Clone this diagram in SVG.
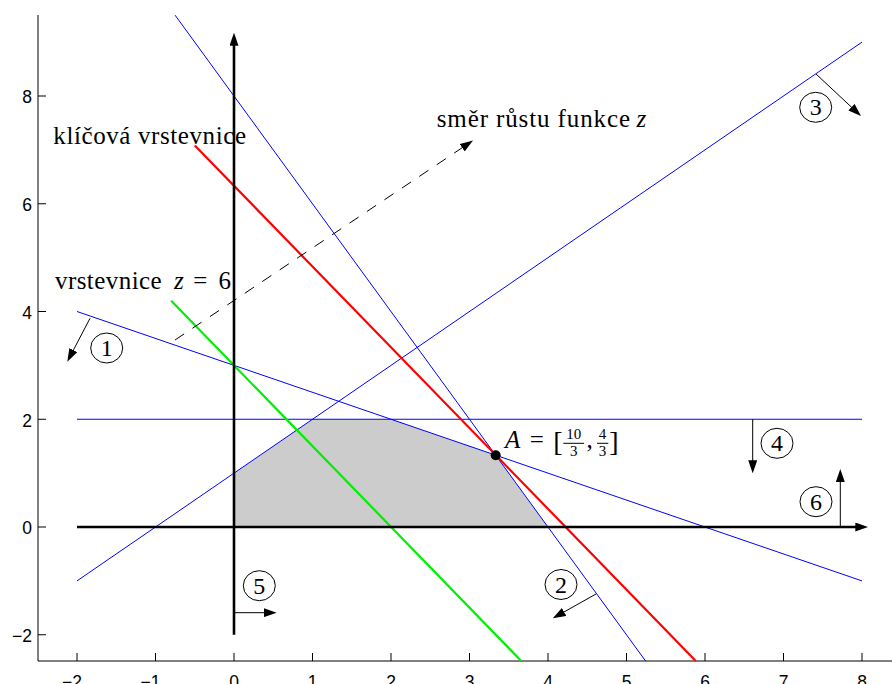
<svg xmlns="http://www.w3.org/2000/svg" width="892" height="684" viewBox="0 0 892 684">
<defs>
<style>
.it{font-style:italic}
.tick{font-family:'Liberation Sans',Arial,sans-serif;font-size:17.5px;fill:#000}
.ax{stroke:#000;stroke-width:1;fill:none}
.blue{stroke:#0000ff;stroke-width:1;fill:none}
.red{stroke:#ff0000;stroke-width:2.2;fill:none}
.green{stroke:#00ee00;stroke-width:2.2;fill:none}
.thick{stroke:#000;stroke-width:2.6;fill:none;marker-end:url(#ah)}
.thin{stroke:#000;stroke-width:1;fill:none;marker-end:url(#ah)}
.dash{stroke:#000;stroke-width:1;fill:none;stroke-dasharray:11 10;marker-end:url(#ah)}
.circ{stroke:#000;stroke-width:1;fill:none}
.num{font-size:24px;text-anchor:middle;fill:#000}
</style>
<marker id="ah" markerUnits="userSpaceOnUse" markerWidth="13" markerHeight="9" viewBox="0 0 13 9" refX="4" refY="4.5" orient="auto"><path d="M0,0 L13,4.5 L0,9 z" fill="#000"/></marker>
</defs>
<rect x="0" y="0" width="892" height="684" fill="#fff"/>

<g id="feasible-region">
<polygon points="234,527 234,473.1 312.5,419.25 391,419.25 495.7,455.2 548,527" fill="#cccccc"/>
</g>

<g id="frame">
<path class="ax" d="M38,15 V661 H892"/>
<path class="ax" d="M38,96 h8 M38,203.75 h8 M38,311.5 h8 M38,419.25 h8 M38,527 h8 M38,634.75 h8"/>
<path class="ax" d="M77,661 v-8 M155.5,661 v-8 M234,661 v-8 M312.5,661 v-8 M391,661 v-8 M469.5,661 v-8 M548,661 v-8 M626.5,661 v-8 M705,661 v-8 M783.5,661 v-8 M862,661 v-8"/>
<g class="tick" text-anchor="end">
<text x="32" y="103.3">8</text>
<text x="32" y="211">6</text>
<text x="32" y="318.8">4</text>
<text x="32" y="426.5">2</text>
<text x="32" y="534.3">0</text>
<text x="32" y="642">−2</text>
</g>
<g class="tick" text-anchor="end">
<text x="82" y="687.5">−2</text>
<text x="160.5" y="687.5">−1</text>
</g>
<g class="tick" text-anchor="middle">
<text x="234" y="687.5">0</text>
<text x="312.5" y="687.5">1</text>
<text x="391" y="687.5">2</text>
<text x="469.5" y="687.5">3</text>
<text x="548" y="687.5">4</text>
<text x="626.5" y="687.5">5</text>
<text x="705" y="687.5">6</text>
<text x="783.5" y="687.5">7</text>
<text x="862" y="687.5">8</text>
</g>
</g>

<g id="constraints">
<line id="c1" class="blue" x1="77" y1="311.5" x2="862" y2="580.9"/>
<line id="c2" class="blue" x1="175.1" y1="15.2" x2="645.6" y2="661"/>
<line id="c3" class="blue" x1="77" y1="580.9" x2="862" y2="42.1"/>
<line id="c4" class="blue" x1="77" y1="419.25" x2="862" y2="419.25"/>
</g>

<g id="contours">
<line id="key-contour" class="red" x1="194.8" y1="145.4" x2="695.8" y2="661"/>
<line id="contour-6" class="green" x1="171.2" y1="300.7" x2="521.3" y2="661"/>
</g>

<g id="axes">
<line class="thick" x1="234" y1="634.75" x2="234" y2="41.7"/>
<line class="thick" x1="77" y1="527" x2="859.3" y2="527"/>
</g>

<g id="connectors">
<line class="dash" x1="175" y1="340" x2="465.5" y2="145.5"/>
<line class="thin" x1="90" y1="318.3" x2="71.5" y2="353.7"/>
<line class="thin" x1="596" y1="594" x2="560.6" y2="613.9"/>
<line class="thin" x1="816" y1="74" x2="854.4" y2="109.9"/>
<line class="thin" x1="752.7" y1="419.25" x2="752.7" y2="464.3"/>
<line class="thin" x1="234" y1="612.7" x2="267.7" y2="612.7"/>
<line class="thin" x1="840.3" y1="527" x2="840.3" y2="478"/>
</g>

<g font-family="Liberation Serif" fill="#000">
<g id="marker-1"><ellipse class="circ" cx="106.7" cy="348" rx="16" ry="15"/><text class="num" x="106.7" y="356">1</text></g>
<g id="marker-2"><ellipse class="circ" cx="561" cy="584.5" rx="16" ry="15"/><text class="num" x="561" y="592.5">2</text></g>
<g id="marker-3"><ellipse class="circ" cx="815.7" cy="107.3" rx="16" ry="15"/><text class="num" x="815.7" y="115.3">3</text></g>
<g id="marker-4"><ellipse class="circ" cx="777" cy="443.3" rx="16" ry="15"/><text class="num" x="777" y="451.3">4</text></g>
<g id="marker-5"><ellipse class="circ" cx="259.3" cy="585.7" rx="16" ry="15"/><text class="num" x="259.3" y="593.7">5</text></g>
<g id="marker-6"><ellipse class="circ" cx="816" cy="501.7" rx="16" ry="15"/><text class="num" x="816" y="509.7">6</text></g>

<g id="label-key">
<text x="53.3" y="144" font-size="25" textLength="192.7" lengthAdjust="spacing">klíčová vrstevnice</text>
</g>
<g id="label-direction">
<text x="436.7" y="126.7" font-size="25" textLength="193.3" lengthAdjust="spacing">směr růstu funkce</text>
<text class="it" x="636.5" y="126.7" font-size="25">z</text>
</g>
<g id="label-contour">
<text x="55" y="289.3" font-size="25" textLength="106.7" lengthAdjust="spacing">vrstevnice</text>
<text class="it" x="174" y="289.3" font-size="25">z</text>
<text x="200.3" y="289.3" font-size="25" text-anchor="middle">=</text>
<text x="224.7" y="289.3" font-size="25" text-anchor="middle">6</text>
</g>

<g id="point-A">
<circle cx="495.7" cy="455.2" r="5" fill="#000"/>
<text class="it" x="505" y="448.3" font-size="25">A</text>
<text x="536.7" y="448.3" font-size="25" text-anchor="middle">=</text>
<text x="558" y="450.5" font-size="28" text-anchor="middle">[</text>
<text x="573.7" y="439.3" font-size="15" text-anchor="middle">10</text>
<line x1="563.3" y1="443.3" x2="584" y2="443.3" stroke="#000" stroke-width="1"/>
<text x="573.7" y="456.3" font-size="15" text-anchor="middle">3</text>
<text x="586.5" y="448.3" font-size="25">,</text>
<text x="602.5" y="439.3" font-size="15" text-anchor="middle">4</text>
<line x1="597" y1="443.3" x2="608.3" y2="443.3" stroke="#000" stroke-width="1"/>
<text x="602.5" y="456.3" font-size="15" text-anchor="middle">3</text>
<text x="614" y="450.5" font-size="28" text-anchor="middle">]</text>
</g>
</g>
</svg>
